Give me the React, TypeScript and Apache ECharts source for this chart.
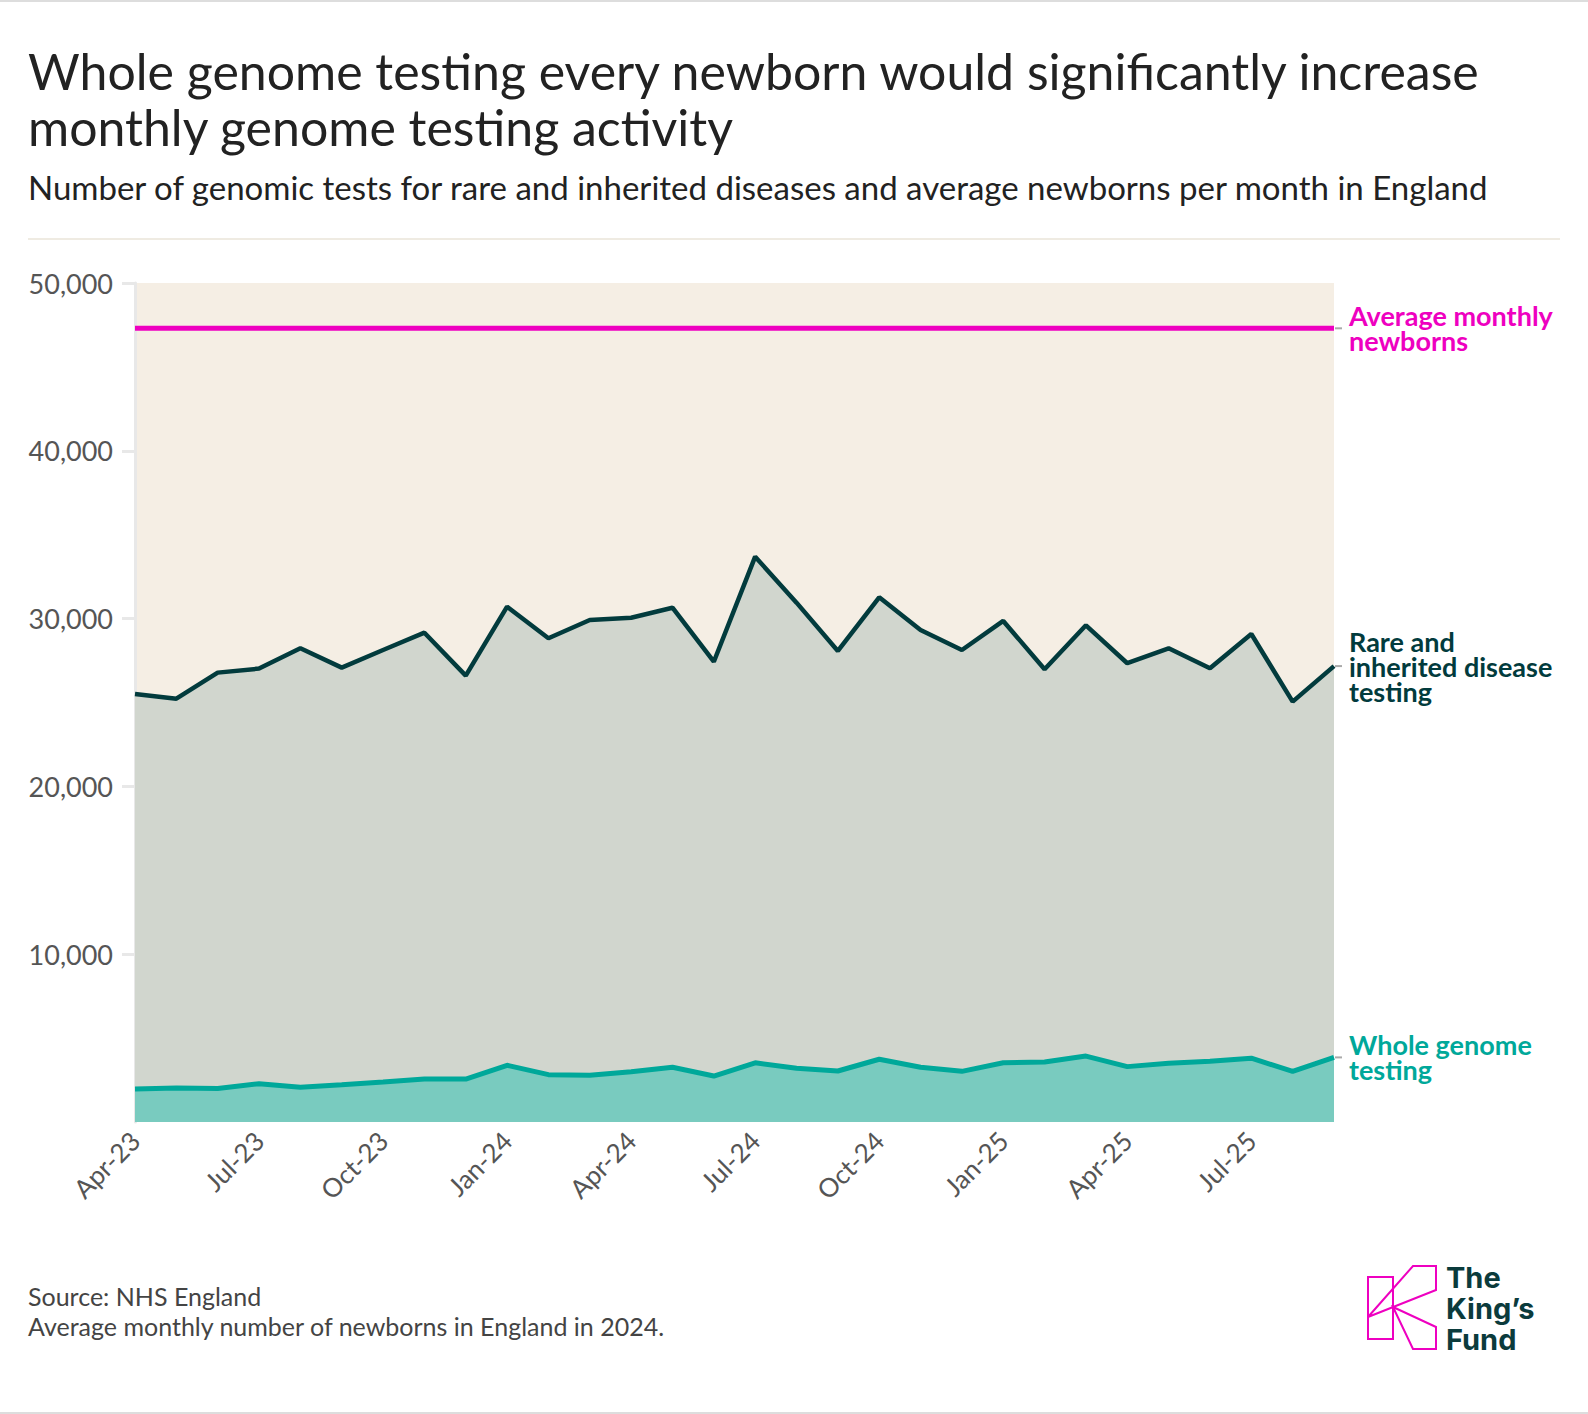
import React, { useEffect, useRef } from "react";
import * as echarts from "echarts";

const months = [
  "Apr-23", "May-23", "Jun-23", "Jul-23", "Aug-23", "Sep-23", "Oct-23", "Nov-23", "Dec-23",
  "Jan-24", "Feb-24", "Mar-24", "Apr-24", "May-24", "Jun-24", "Jul-24", "Aug-24", "Sep-24",
  "Oct-24", "Nov-24", "Dec-24", "Jan-25", "Feb-25", "Mar-25", "Apr-25", "May-25", "Jun-25",
  "Jul-25", "Aug-25", "Sep-25",
];

const rareTesting = [
  25500, 25230, 26780, 27020, 28230, 27080, 28130, 29160, 26600, 30710, 28830, 29920, 30050,
  30650, 27430, 33690, 30950, 28070, 31270, 29320, 28130, 29860, 26980, 29600, 27340, 28230,
  27040, 29080, 25050, 27170,
];

const wholeGenome = [
  1970, 2030, 2000, 2280, 2070, 2220, 2380, 2560, 2560, 3380, 2820, 2780, 3000, 3260, 2740,
  3530, 3200, 3040, 3740, 3260, 3020, 3530, 3580, 3930, 3300, 3500, 3620, 3800, 3020, 3850,
];

const avgMonthlyNewborns = 47300;
const newborns = months.map(() => avgMonthlyNewborns);

const yMin = 0;
const yMax = 50000;
const yStep = 10000;
const yTickValues = [10000, 20000, 30000, 40000, 50000];

const seriesNames = ["Rare and\ninherited disease\ntesting", "Whole genome\ntesting", "Average monthly\nnewborns"];

const titleLines = [
  "Whole genome testing every newborn would significantly increase",
  "monthly genome testing activity",
];
const subtitle = "Number of genomic tests for rare and inherited diseases and average newborns per month in England";
const footnotes = ["Source: NHS England", "Average monthly number of newborns in England in 2024."];

const COL_RARE_LINE = "#023B3D";
const COL_RARE_AREA = "#D1D6CE";
const COL_WG_LINE = "#00A89A";
const COL_WG_AREA = "#79CBBF";
const COL_PINK = "#EE00C0";
const COL_BAND = "#F5EEE4";
const COL_TEXT = "#222222";
const COL_AXIS_TEXT = "#555555";

export default function App() {
  const ref = useRef<HTMLDivElement>(null);

  useEffect(() => {
    document.body.style.margin = "0";
    if (!ref.current) return;
    const chart = echarts.init(ref.current, undefined, { renderer: "svg" });

    const labelStyle = (color: string) => ({
      show: true,
      color,
      fontFamily: "Lato",
      fontWeight: "bold" as const,
      fontSize: 27,
      lineHeight: 25,
      distance: 15,
      align: "left" as const,
    });

    const baseGraphic: any[] = [
      { type: "rect", shape: { x: 0, y: 0, width: 1588, height: 2 }, style: { fill: "#DDDDDD" }, silent: true },
      { type: "rect", shape: { x: 0, y: 1412, width: 1588, height: 2 }, style: { fill: "#DDDDDD" }, silent: true },
      ...titleLines.map((t, i) => ({
        type: "text",
        x: 28,
        y: 71 + i * 56,
        style: { text: t, fill: COL_TEXT, font: "50px Lato", verticalAlign: "middle" },
      })),
      {
        type: "text",
        x: 28,
        y: 187,
        style: { text: subtitle, fill: COL_TEXT, font: "33px Lato", verticalAlign: "middle" },
      },
      { type: "rect", shape: { x: 28, y: 238, width: 1532, height: 2 }, style: { fill: "#EFEBE2" }, silent: true },
      ...footnotes.map((t, i) => ({
        type: "text",
        x: 28,
        y: 1296 + i * 30,
        style: { text: t, fill: "#444444", font: "25px Lato", verticalAlign: "middle" },
      })),
      // Logo: The King's Fund
      {
        type: "rect",
        shape: { x: 1368, y: 1277, width: 25, height: 62 },
        style: { fill: "none", stroke: COL_PINK, lineWidth: 2 },
      },
      {
        type: "polygon",
        shape: { points: [[1368, 1317], [1413, 1266], [1436, 1266], [1436, 1290]] },
        style: { fill: "none", stroke: COL_PINK, lineWidth: 2 },
      },
      {
        type: "polygon",
        shape: { points: [[1393, 1307], [1436, 1327], [1436, 1349], [1413, 1349]] },
        style: { fill: "none", stroke: COL_PINK, lineWidth: 2 },
      },
      ...["The", "King\u2019s", "Fund"].map((t, i) => ({
        type: "text",
        x: 1446,
        y: 1277 + i * 31,
        style: { text: t, fill: "#0B3B3C", font: "bold 29px Inter", verticalAlign: "middle" },
      })),
    ];

    const option: any = {
      animation: false,
      backgroundColor: "#ffffff",
      grid: {
        left: 135,
        right: 254,
        top: 283,
        bottom: 292,
        show: true,
        backgroundColor: COL_BAND,
        borderWidth: 0,
      },
      xAxis: {
        type: "category",
        data: months,
        boundaryGap: false,
        axisLine: { show: false },
        axisTick: { show: false },
        splitLine: { show: false },
        axisLabel: {
          interval: 2,
          rotate: 45,
          fontSize: 26,
          fontFamily: "Lato",
          color: COL_AXIS_TEXT,
          margin: 14,
        },
      },
      yAxis: {
        type: "value",
        min: yMin,
        max: yMax,
        interval: yStep,
        axisLine: { show: true, lineStyle: { color: "#E8E8E8", width: 3 } },
        axisTick: {
          show: true,
          length: 13,
          lineStyle: { color: "#E8E8E8", width: 3 },
          customValues: yTickValues,
        },
        splitLine: { show: false },
        axisLabel: {
          fontSize: 27,
          fontFamily: "Lato",
          color: COL_AXIS_TEXT,
          margin: 22,
          formatter: (v: number) => (v === 0 ? "" : v.toLocaleString("en-US")),
        },
      },
      series: [
        {
          name: seriesNames[0],
          type: "line",
          data: rareTesting,
          symbol: "none",
          lineStyle: { color: COL_RARE_LINE, width: 4.5 },
          itemStyle: { color: COL_RARE_LINE },
          areaStyle: { color: COL_RARE_AREA, opacity: 1 },
          z: 2,
          endLabel: { ...labelStyle(COL_RARE_LINE), formatter: seriesNames[0] },
        },
        {
          name: seriesNames[1],
          type: "line",
          data: wholeGenome,
          symbol: "none",
          lineStyle: { color: COL_WG_LINE, width: 5 },
          itemStyle: { color: COL_WG_LINE },
          areaStyle: { color: COL_WG_AREA, opacity: 1 },
          z: 3,
          endLabel: { ...labelStyle(COL_WG_LINE), formatter: seriesNames[1] },
        },
        {
          name: seriesNames[2],
          type: "line",
          data: newborns,
          symbol: "none",
          lineStyle: { color: COL_PINK, width: 5 },
          itemStyle: { color: COL_PINK },
          z: 4,
          endLabel: { ...labelStyle(COL_PINK), formatter: seriesNames[2] },
        },
      ],
      graphic: baseGraphic,
    };

    chart.setOption(option);

    const last = months.length - 1;
    const connectors = [rareTesting[last], wholeGenome[last], newborns[last]].map((v, i) => {
      const p = chart.convertToPixel({ seriesIndex: i }, [last, v]) as number[];
      return {
        type: "line",
        shape: { x1: p[0] + 1, y1: p[1], x2: p[0] + 8, y2: p[1] },
        style: { stroke: "#AAAAAA", lineWidth: 2 },
        silent: true,
      };
    });
    chart.setOption({ graphic: [...baseGraphic, ...connectors] });

    return () => chart.dispose();
  }, []);

  return <div ref={ref} style={{ width: 1588, height: 1414 }} />;
}
